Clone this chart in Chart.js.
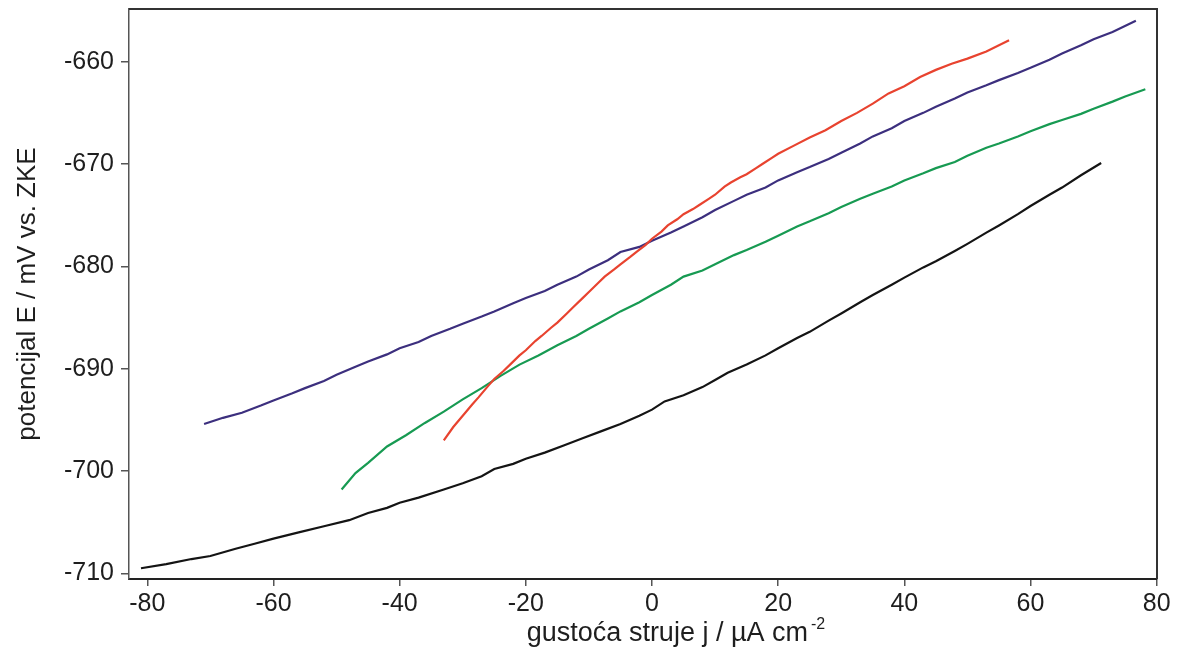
<!DOCTYPE html>
<html>
<head>
<meta charset="utf-8">
<script src="https://cdn.jsdelivr.net/npm/chart.js@4.4.0/dist/chart.umd.min.js"></script>
<style>
    html, body { margin: 0; padding: 0; background: #fff; }
</style>
</head>
<body>
<canvas id="chart" width="1178" height="648"></canvas>
<script>
// tick labels
const xTicks = [-80, -60, -40, -20, 0, 20, 40, 60, 80]
const yTicks = [-710, -700, -690, -680, -670, -660]

// black curve
const blackJ = [-81, -77, -73, -70, -66, -63, -60, -56, -52, -48, -45, -42, -40, -37, -33, -30, -27, -25, -22, -20, -17, -14, -11, -8, -5, -2, 0, 2, 5, 8, 10, 12, 15, 18, 20, 23, 25, 28, 30, 33, 35, 38, 40, 43, 45, 48, 50, 53, 55, 58, 60, 63, 65, 68, 71.2]
const blackE = [-709.5, -709.1, -708.6, -708.3, -707.6, -707.1, -706.6, -706.0, -705.4, -704.8, -704.1, -703.6, -703.1, -702.6, -701.8, -701.2, -700.5, -699.8, -699.3, -698.8, -698.2, -697.5, -696.8, -696.1, -695.4, -694.6, -694.0, -693.2, -692.6, -691.8, -691.1, -690.4, -689.6, -688.7, -688.0, -687.0, -686.4, -685.3, -684.6, -683.5, -682.8, -681.8, -681.1, -680.1, -679.5, -678.5, -677.8, -676.7, -676.0, -674.9, -674.1, -673.0, -672.3, -671.1, -669.9]

// green curve
const greenJ = [-49.2, -47, -45, -42, -39, -36, -33, -30, -27, -24, -21, -18, -15, -12, -10, -7, -5, -2, 0, 3, 5, 8, 10, 13, 15, 18, 20, 23, 25, 28, 30, 33, 35, 38, 40, 43, 45, 48, 50, 53, 55, 58, 60, 63, 65, 68, 70, 73, 75, 78.2]
const greenE = [-701.8, -700.2, -699.2, -697.6, -696.5, -695.3, -694.2, -693.0, -691.9, -690.7, -689.6, -688.7, -687.7, -686.8, -686.1, -685.1, -684.4, -683.5, -682.8, -681.8, -681.0, -680.4, -679.8, -678.9, -678.4, -677.6, -677.0, -676.1, -675.6, -674.8, -674.2, -673.4, -672.9, -672.2, -671.6, -670.9, -670.4, -669.8, -669.2, -668.4, -668.0, -667.3, -666.8, -666.1, -665.7, -665.1, -664.6, -663.9, -663.4, -662.7]

// blue curve
const blueJ = [-71, -68, -65, -62, -60, -57, -55, -52, -50, -47, -45, -42, -40, -37, -35, -32, -30, -27, -25, -22, -20, -17, -15, -12, -10, -7, -5, -2, 0, 3, 5, 8, 10, 13, 15, 18, 20, 23, 25, 28, 30, 33, 35, 38, 40, 43, 45, 48, 50, 53, 55, 58, 60, 63, 65, 68, 70, 73, 76.7]
const blueE = [-695.4, -694.8, -694.3, -693.6, -693.1, -692.4, -691.9, -691.2, -690.6, -689.8, -689.3, -688.6, -688.0, -687.4, -686.8, -686.1, -685.6, -684.9, -684.4, -683.6, -683.1, -682.4, -681.8, -681.0, -680.3, -679.4, -678.6, -678.1, -677.5, -676.7, -676.1, -675.2, -674.5, -673.6, -673.0, -672.3, -671.6, -670.8, -670.3, -669.5, -668.9, -668.0, -667.3, -666.5, -665.8, -665.0, -664.4, -663.6, -663.0, -662.3, -661.8, -661.1, -660.6, -659.8, -659.2, -658.4, -657.8, -657.1, -656.0]

// red curve
const redJ = [-33, -31.5, -30, -28.5, -27.5, -26, -25, -23.5, -22.5, -21, -20, -18.5, -17.5, -16, -15, -13.5, -12.5, -11, -10, -8.5, -7.5, -6, -5, -3.5, -2.5, -1, 0, 1.5, 2.5, 4, 5, 6.5, 7.5, 9, 10, 11.5, 12.5, 14, 15, 16.5, 17.5, 19, 20, 22.5, 25, 27.5, 30, 32.5, 35, 37.5, 40, 42.5, 45, 47.5, 50, 53, 55, 56.6]
const redE = [-697.0, -695.7, -694.6, -693.5, -692.8, -691.7, -691.0, -690.2, -689.6, -688.7, -688.2, -687.3, -686.8, -686.0, -685.5, -684.6, -684.0, -683.1, -682.5, -681.6, -681.0, -680.3, -679.8, -679.1, -678.6, -677.9, -677.3, -676.6, -676.0, -675.4, -674.9, -674.4, -674.0, -673.4, -673.0, -672.2, -671.8, -671.3, -671.0, -670.4, -670.0, -669.4, -669.0, -668.2, -667.4, -666.7, -665.8, -665.0, -664.1, -663.1, -662.4, -661.5, -660.8, -660.2, -659.7, -659.0, -658.4, -657.9]

const xMin = -82.9
const xMax = 80.05
const yMin = -710.55
const yMax = -654.85

function toPoints(js, es) {
    return js.map((j, i) => ({ x: j, y: es[i] }))
}

function makeSet(label, js, es, color) {
    return {
        label: label,
        data: toPoints(js, es),
        borderColor: color,
        borderWidth: 2.2,
        pointRadius: 0,
        tension: 0,
        fill: false
    }
}

const FONT = "'Liberation Sans', Arial, Helvetica, sans-serif"
const TEXT_COLOR = '#1e1e1e'

// frame on top and right side + x title with superscript
const framePlugin = {
    id: 'frame',
    afterDraw(chart) {
        const ctx = chart.ctx
        const a = chart.chartArea
        ctx.save()
        ctx.strokeStyle = '#333'
        ctx.lineWidth = 2
        ctx.beginPath()
        ctx.moveTo(a.left, a.top)
        ctx.lineTo(a.right, a.top)
        ctx.lineTo(a.right, a.bottom)
        ctx.stroke()

        // x axis title
        const main = 'gustoća struje j / µA cm'
        const sup = '-2'
        ctx.fillStyle = TEXT_COLOR
        ctx.textBaseline = 'alphabetic'
        ctx.font = '27px ' + FONT
        const w1 = ctx.measureText(main).width
        ctx.font = '16px ' + FONT
        const w2 = ctx.measureText(sup).width
        const cx = (a.left + a.right) / 2 + 33
        const start = cx - (w1 + w2 + 3) / 2
        const base = a.bottom + 62
        ctx.font = '27px ' + FONT
        ctx.fillText(main, start, base)
        ctx.font = '16px ' + FONT
        ctx.fillText(sup, start + w1 + 3, base - 12)
        ctx.restore()
    }
}

const ctx = document.getElementById('chart').getContext('2d')
const myChart = new Chart(ctx, {
    type: 'line',
    data: {
        datasets: [
            makeSet('red', redJ, redE, '#e8432f'),
            makeSet('blue', blueJ, blueE, '#3c2f7e'),
            makeSet('green', greenJ, greenE, '#179a52'),
            makeSet('black', blackJ, blackE, '#141414')
        ]
    },
    options: {
        responsive: false,
        animation: false,
        layout: { padding: { top: 9, right: 21, left: 0, bottom: 0 } },
        plugins: {
            legend: { display: false },
            tooltip: { enabled: false }
        },
        scales: {
            x: {
                type: 'linear',
                min: xMin,
                max: xMax,
                afterBuildTicks: (scale) => { scale.ticks = xTicks.map(v => ({ value: v })) },
                afterFit: (scale) => {
                    scale.height = 69
                    scale.paddingLeft = 0
                    scale.paddingRight = 0
                },
                border: { display: true, color: '#222', width: 2 },
                grid: { drawOnChartArea: false, drawTicks: true, tickLength: 7, color: '#555', lineWidth: 1.5 },
                ticks: {
                    color: TEXT_COLOR,
                    font: { family: FONT, size: 25 },
                    padding: 3,
                    maxRotation: 0,
                    autoSkip: false
                },
                title: { display: false }
            },
            y: {
                type: 'linear',
                min: yMin,
                max: yMax,
                afterBuildTicks: (scale) => { scale.ticks = yTicks.map(v => ({ value: v })) },
                afterFit: (scale) => {
                    scale.width = 129
                    scale.paddingTop = 0
                    scale.paddingBottom = 0
                },
                border: { display: true, color: '#555', width: 1.5 },
                grid: { drawOnChartArea: false, drawTicks: true, tickLength: 8, color: '#555', lineWidth: 1.5 },
                ticks: {
                    color: TEXT_COLOR,
                    font: { family: FONT, size: 25 },
                    padding: 7,
                    autoSkip: false
                },
                title: {
                    display: true,
                    text: 'potencijal E / mV vs. ZKE',
                    color: TEXT_COLOR,
                    font: { family: FONT, size: 26 },
                    padding: { top: 12, bottom: 0 }
                }
            }
        }
    },
    plugins: [framePlugin]
});
</script>
</body>
</html>
